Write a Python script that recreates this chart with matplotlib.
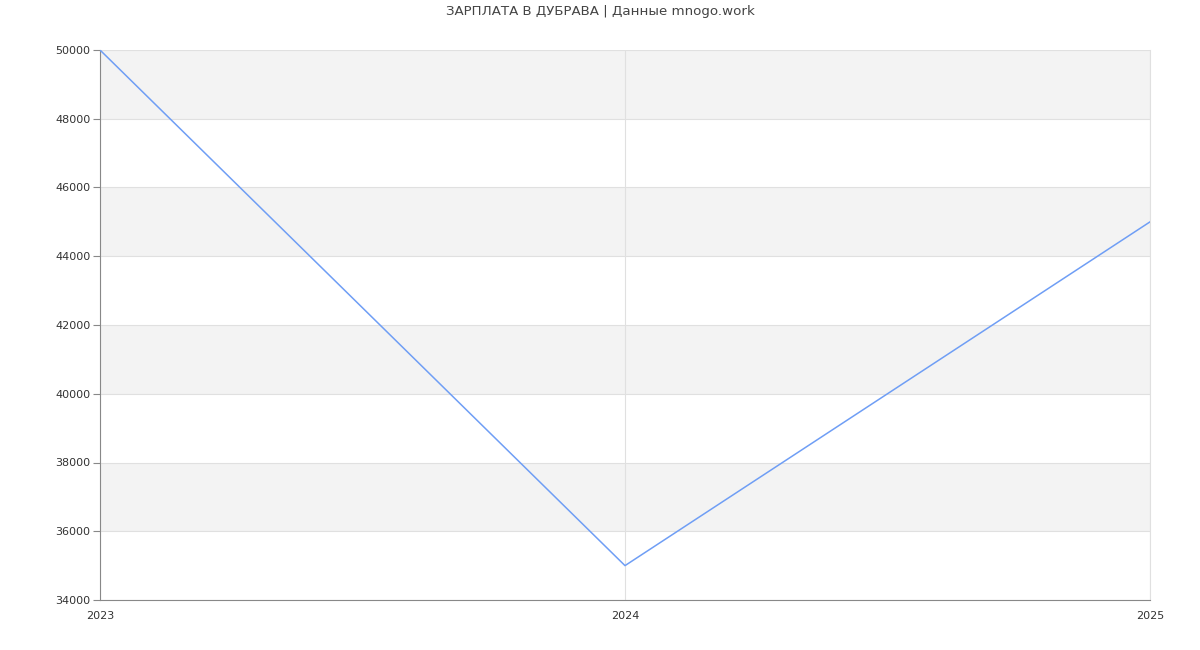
import matplotlib
matplotlib.use("Agg")
import matplotlib.pyplot as plt

years = [2023, 2024, 2025]
salaries = [50000, 35000, 45000]
y_ticks = [34000, 36000, 38000, 40000, 42000, 44000, 46000, 48000, 50000]
title = "ЗАРПЛАТА В ДУБРАВА | Данные mnogo.work"

W, H = 1200, 650
fig = plt.figure(figsize=(12, 6.5), dpi=100)
ax = fig.add_axes([100 / W, 1 - 600 / H, 1050 / W, 550 / H])

ax.set_xlim(years[0], years[-1])
ax.set_ylim(y_ticks[0], y_ticks[-1])

# alternating bands
for i in range(len(y_ticks) - 1):
    if i % 2 == 1:
        ax.axhspan(y_ticks[i], y_ticks[i + 1], color="#f3f3f3", zorder=0, lw=0)

ax.set_yticks(y_ticks)
ax.set_xticks(years)
ax.set_xticklabels([str(y) for y in years])
ax.grid(True, color="#e0e0e0", lw=0.8, zorder=1)
ax.set_axisbelow(True)

ax.plot(years, salaries, color="#6f9ef5", lw=1.1, zorder=3)

ax.spines["top"].set_visible(False)
ax.spines["right"].set_color("#e0e0e0")
ax.spines["left"].set_color("#888888")
ax.spines["bottom"].set_color("#888888")
ax.tick_params(axis="y", length=5, color="#888888", labelsize=8, labelcolor="#333333", pad=2)
ax.tick_params(axis="x", length=0, labelsize=8, labelcolor="#333333", pad=8)

fig.text(0.5, 1 - 12 / H, title, ha="center", va="center", fontsize=9.6, color="#444444")

fig.savefig("out.png", dpi=100)
